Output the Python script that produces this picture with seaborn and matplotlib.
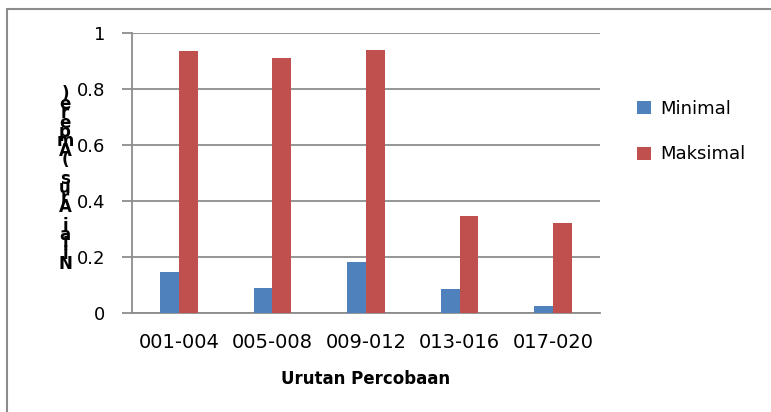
import matplotlib
matplotlib.use("Agg")
import matplotlib.pyplot as plt
import seaborn as sns
import pandas as pd
from matplotlib.lines import Line2D

# data
categories = ["001-004", "005-008", "009-012", "013-016", "017-020"]
minimal = [0.147, 0.092, 0.182, 0.086, 0.026]
maksimal = [0.934, 0.910, 0.940, 0.346, 0.322]
series = ["Minimal", "Maksimal"]
yticks = [0, 0.2, 0.4, 0.6, 0.8, 1]
ytick_labels = ["0", "0.2", "0.4", "0.6", "0.8", "1"]
xlabel = "Urutan Percobaan"
ylabel = "Nilai Arus (Ampere)"

df = pd.DataFrame({
    "kategori": categories * 2,
    "nilai": minimal + maksimal,
    "seri": [series[0]] * len(categories) + [series[1]] * len(categories),
})

sns.set_style("white")
plt.rcParams["font.family"] = ["DejaVu Sans"]
plt.rcParams["text.color"] = "black"
plt.rcParams["axes.labelcolor"] = "black"
grid_col = "#8c8c8c"

fig = plt.figure(figsize=(7.71, 4.12), dpi=100)
ax = fig.add_axes([0.1712, 0.2391, 0.6070, 0.6815])

sns.barplot(data=df, x="kategori", y="nilai", hue="seri", order=categories,
            hue_order=series, palette=["#4F81BD", "#C0504D"], width=0.4,
            saturation=1, linewidth=0, ax=ax, zorder=3)

ax.set_xlim(-0.5, len(categories) - 0.5)
ax.set_ylim(0, 1)
ax.set_yticks(yticks)
ax.set_yticklabels(ytick_labels)
ax.yaxis.grid(True, color=grid_col, lw=1.3, zorder=0)
ax.set_axisbelow(True)
for s in ["top", "right"]:
    ax.spines[s].set_visible(False)
for s in ["left", "bottom"]:
    ax.spines[s].set_color(grid_col)
    ax.spines[s].set_linewidth(1.3)
ax.tick_params(axis="y", length=7.5, width=1.3, color=grid_col, pad=12,
               labelsize=13, labelcolor="black", direction="out", left=True)
ax.tick_params(axis="x", length=0, pad=14, labelsize=14, labelcolor="black")
ax.set_xlabel(xlabel, fontsize=12, fontweight="bold", labelpad=13)
ax.set_ylabel("")

# y label stacked upright, one character per line, squeezed like the reference
fig.text(65 / 771, 1 - 179 / 412, "\n".join(reversed(ylabel)), ha="center",
         va="center", fontsize=12, fontweight="bold", linespacing=0.385)

ax.legend(loc="upper left", bbox_to_anchor=(1.045, 0.82), frameon=False,
          fontsize=13, handlelength=0.75, handleheight=0.75,
          handletextpad=0.5, labelspacing=1.55)

# outer chart border (left and top only visible)
fig.add_artist(Line2D([7 / 771, 7 / 771], [0, 1 - 9 / 412], color="#8c8c8c",
                      lw=1.5, transform=fig.transFigure))
fig.add_artist(Line2D([7 / 771, 1], [1 - 9 / 412, 1 - 9 / 412],
                      color="#8c8c8c", lw=1.5, transform=fig.transFigure))

fig.savefig("out.png", dpi=100)
